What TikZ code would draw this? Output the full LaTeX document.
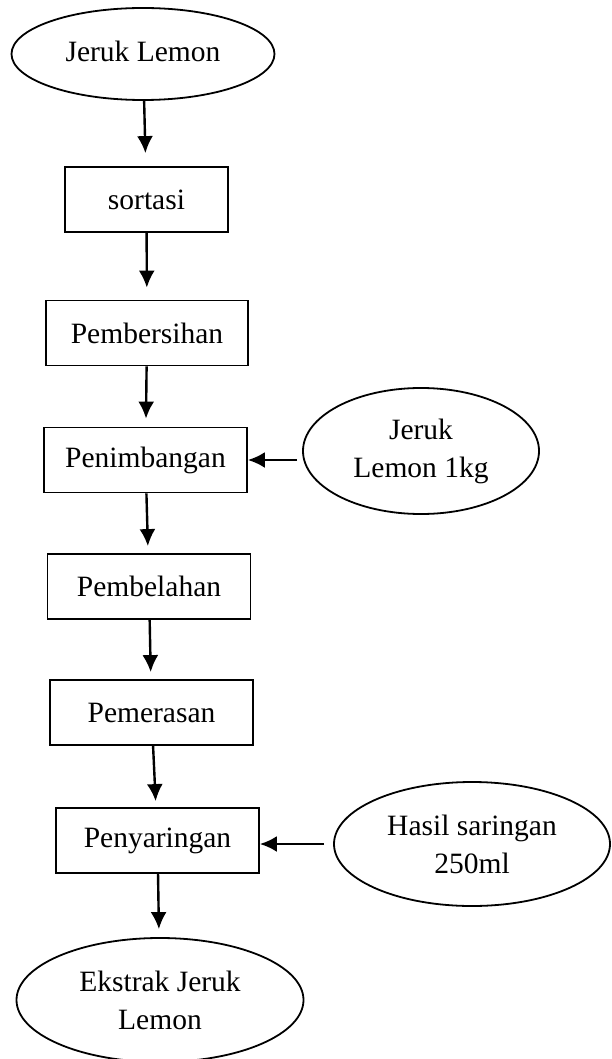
\documentclass[tikz,border=0pt]{standalone}
\usepackage{fontspec}
\setmainfont{Liberation Serif}
\usetikzlibrary{shapes.geometric,arrows.meta}
\tikzset{proses/.style={rectangle,draw=black,line width=1.8pt,minimum width=203pt,minimum height=65pt,inner sep=0pt},
         bahan/.style={ellipse,draw=black,line width=1.8pt,inner sep=0pt,align=center},
         alir/.style={-{Latex[length=17pt,width=16pt]},line width=2.4pt}}

\begin{document}
\begin{tikzpicture}[x=1pt,y=-1pt,font=\fontsize{29.5}{38}\selectfont]
\useasboundingbox (0,0) rectangle (611,1059);

%ellipses
\node[bahan,minimum width=263pt,minimum height=92pt]  (jl) at (143,54)   {\raisebox{6pt}{Jeruk Lemon}};
\node[bahan,minimum width=236pt,minimum height=126pt] (jk) at (421,451)  {Jeruk\\Lemon 1kg};
\node[bahan,minimum width=276pt,minimum height=124pt] (hs) at (472,844)  {Hasil saringan\\250ml};
\node[bahan,minimum width=287pt,minimum height=124pt] (ek) at (160,1000) {Ekstrak Jeruk\\Lemon};

%boxes
\node[proses,minimum width=163pt] (so) at (146.5,199.5) {sortasi};
\node[proses,minimum width=202pt] (pb) at (147,333)     {Pembersihan};
\node[proses] (pn) at (145.5,460) {Penimbangan};
\node[proses] (pl) at (149,586.5) {Pembelahan};
\node[proses] (pm) at (151.5,712.5) {Pemerasan};
\node[proses] (py) at (157.5,840.5) {Penyaringan};

%arrows
\draw [alir, shorten >=13pt] (jl)--(so);   %Jeruk--sortasi
\draw [alir, shorten >=12pt] (so)--(pb);   %sortasi--Pembersihan
\draw [alir, shorten >=8pt]  (pb)--(pn);   %Pembersihan--Penimbangan
\draw [alir, shorten >=7pt]  (pn)--(pl);   %Penimbangan--Pembelahan
\draw [alir, shorten >=7pt]  (pl)--(pm);   %Pembelahan--Pemerasan
\draw [alir, shorten >=6pt]  (pm)--(py);   %Pemerasan--Penyaringan
\draw [alir, shorten >=8pt]  (py)--(ek);   %Penyaringan--Ekstrak
%
\draw [alir, shorten <=5pt]  (jk.west |- pn.east)--(pn.east);   %1kg--Penimbangan
\draw [alir, shorten <=9pt]  (hs.west)--(hs.west -| py.east);   %saringan--Penyaringan
\end{tikzpicture}
\end{document}
